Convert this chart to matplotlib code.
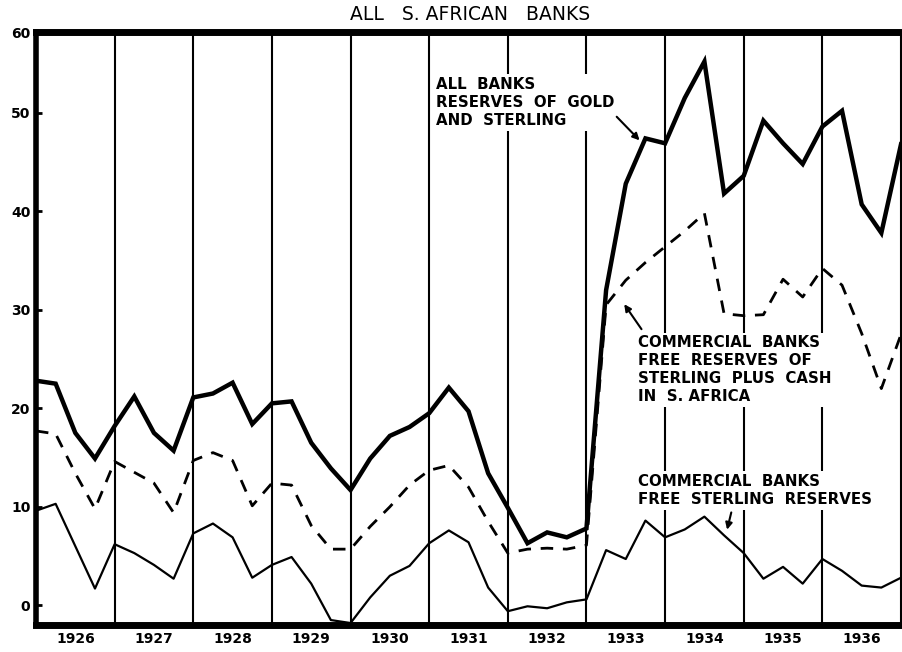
import numpy as np
import matplotlib
matplotlib.use("Agg")
import matplotlib.pyplot as plt

# Quarterly values, 1926.0 .. 1937.0 (45 points), in millions of pounds
quarters = [1926 + k / 4 for k in range(45)]

all_banks_gold_sterling = [
    22.8, 22.5, 17.5, 14.9, 18.2, 21.2, 17.5, 15.7,
    21.1, 21.5, 22.6, 18.4, 20.5, 20.7, 16.5, 13.9,
    11.7, 14.9, 17.2, 18.1, 19.5, 22.1, 19.7, 13.4,
    9.9, 6.3, 7.4, 6.9, 7.8, 32.0, 42.8, 47.4,
    46.9, 51.5, 55.2, 41.8, 43.6, 49.2, 46.9, 44.8,
    48.6, 50.2, 40.7, 37.8, 46.8,
]

commercial_sterling_plus_cash = [
    17.7, 17.4, 13.4, 9.8, 14.6, 13.5, 12.4, 9.4,
    14.7, 15.5, 14.7, 10.1, 12.4, 12.2, 8.1, 5.7,
    5.7, 8.0, 10.0, 12.2, 13.7, 14.2, 12.0, 8.5,
    5.3, 5.7, 5.8, 5.7, 6.1, 30.5, 33.0, 34.8,
    36.4, 38.0, 39.8, 29.6, 29.4, 29.5, 33.1, 31.3,
    34.2, 32.5, 27.6, 22.0, 27.5,
]

commercial_free_sterling = [
    9.6, 10.3, 6.0, 1.7, 6.2, 5.3, 4.1, 2.7,
    7.3, 8.3, 6.9, 2.8, 4.1, 4.9, 2.2, -1.5,
    -1.8, 0.8, 3.0, 4.0, 6.3, 7.6, 6.4, 1.8,
    -0.6, -0.1, -0.3, 0.3, 0.6, 5.6, 4.7, 8.6,
    6.9, 7.7, 9.0, 7.1, 5.3, 2.7, 3.9, 2.2,
    4.7, 3.5, 2.0, 1.8, 2.8,
]

years = list(range(1926, 1937))
year_labels = [str(y) for y in years]
ytick_values = [0, 10, 20, 30, 40, 50]
ytick_labels = ["0", "10", "20", "30", "40", "50", "60"]

fig = plt.figure(figsize=(9.03, 6.52), dpi=100)
ax = fig.add_axes([36 / 903, 1 - 625 / 652, (901 - 36) / 903, (625 - 32) / 652])

ax.set_xlim(1926, 1937)
ax.set_ylim(-2.0, 58.2)

# year separators
for y in years[1:]:
    ax.axvline(y, color="black", lw=1.5, zorder=1)

ax.plot(quarters, all_banks_gold_sterling, color="black", lw=3.2,
        solid_joinstyle="miter", zorder=3)
ax.plot(quarters, commercial_sterling_plus_cash, color="black", lw=2,
        dashes=(4.5, 3.5), zorder=3)
ax.plot(quarters, commercial_free_sterling, color="black", lw=1.6, zorder=3)

# axes frame
for side, w in [("left", 4), ("top", 5), ("bottom", 5), ("right", 1.5)]:
    ax.spines[side].set_linewidth(w)

ax.set_yticks(ytick_values + [58.2])
ax.set_yticklabels(ytick_labels, fontsize=10, fontweight="bold")
ax.tick_params(axis="y", direction="in", length=4, width=2, pad=4)

ax.set_xticks([y + 0.5 for y in years])
ax.set_xticklabels(year_labels, fontsize=10, fontweight="bold")
ax.tick_params(axis="x", length=0, pad=5)

fig.text(470 / 903, 1 - 14 / 652, "ALL   S. AFRICAN   BANKS", ha="center",
         va="center", fontsize=13.5)

txt = dict(fontsize=10.8, fontweight="bold", ha="left", va="top",
           linespacing=1.25, zorder=4,
           bbox=dict(facecolor="white", edgecolor="none", pad=2))

ax.text(1931.09, 53.6, "ALL  BANKS\nRESERVES  OF  GOLD\nAND  STERLING", **txt)
ax.text(1933.65, 27.4,
        "COMMERCIAL  BANKS\nFREE  RESERVES  OF\nSTERLING  PLUS  CASH\nIN  S. AFRICA",
        **txt)
ax.text(1933.65, 13.3, "COMMERCIAL  BANKS\nFREE  STERLING  RESERVES", **txt)

arrow = dict(arrowstyle="-|>", color="black", lw=1.5, mutation_scale=10)
ax.annotate("", xy=(1933.70, 47.0), xytext=(1933.36, 49.8), arrowprops=arrow, zorder=5)
ax.annotate("", xy=(1933.46, 30.8), xytext=(1933.72, 27.8), arrowprops=arrow, zorder=5)
ax.annotate("", xy=(1934.78, 7.4), xytext=(1934.85, 9.7), arrowprops=arrow, zorder=5)

fig.savefig("out.png", dpi=100)
